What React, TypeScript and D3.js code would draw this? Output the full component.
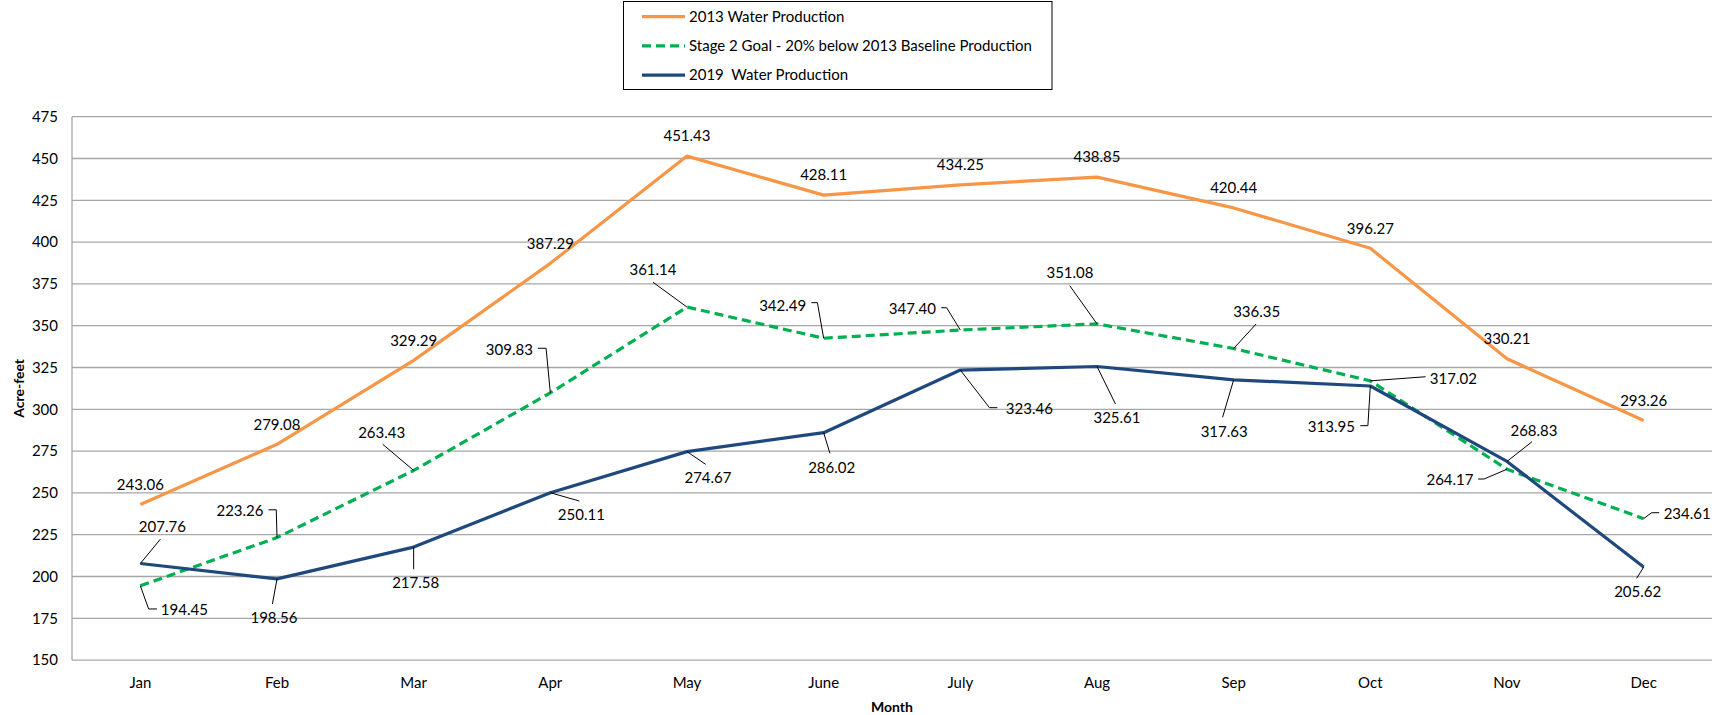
import React from "react";
import * as d3 from "d3";

const months = ["Jan", "Feb", "Mar", "Apr", "May", "June", "July", "Aug", "Sep", "Oct", "Nov", "Dec"];
const prod2013 = [243.06, 279.08, 329.29, 387.29, 451.43, 428.11, 434.25, 438.85, 420.44, 396.27, 330.21, 293.26];
const stage2Goal = [194.45, 223.26, 263.43, 309.83, 361.14, 342.49, 347.4, 351.08, 336.35, 317.02, 264.17, 234.61];
const prod2019 = [207.76, 198.56, 217.58, 250.11, 274.67, 286.02, 323.46, 325.61, 317.63, 313.95, 268.83, 205.62];
const yTicks = [150, 175, 200, 225, 250, 275, 300, 325, 350, 375, 400, 425, 450, 475];

// label placement: [dx, dy] of label centre from point, leader polyline offsets
type Place = { dx: number; dy: number; lead?: [number, number][] };
const above: Place = { dx: 0, dy: -20 };
const place2013: Place[] = months.map(() => above);
const placeGoal: Place[] = [
  { dx: 44, dy: 24, lead: [[8.3, 23.2], [16.7, 23.2]] },
  { dx: -37, dy: -26.6, lead: [[-0.75, -27.8], [-8.5, -27.8]] },
  { dx: -32, dy: -38, lead: [[-31, -26.2]] },
  { dx: -41, dy: -43, lead: [[-4.25, -44.6], [-12.35, -44.6]] },
  { dx: -34, dy: -37, lead: [[-34, -24.8]] },
  { dx: -41, dy: -33, lead: [[-6.25, -35.6], [-12.35, -35.6]] },
  { dx: -48, dy: -21, lead: [[-13.7, -22.3], [-19.1, -22.3]] },
  { dx: -27, dy: -51, lead: [[-27.25, -38.2]] },
  { dx: 23, dy: -37, lead: [[22.4, -24.5]] },
  { dx: 83, dy: -2.5, lead: [[55.25, -4.1]] },
  { dx: -57, dy: 11, lead: [[-22.95, 9.8], [-28.95, 9.8]] },
  { dx: 43.5, dy: -4.5, lead: [[7.95, -5.9], [15.55, -5.9]] },
];
const place2019: Place[] = [
  { dx: 22, dy: -37, lead: [[20, -24.3]] },
  { dx: -3, dy: 38.7, lead: [[-4.6, 25.1]] },
  { dx: 2, dy: 36, lead: [[0, 22.2]] },
  { dx: 31, dy: 22, lead: [[29, 8.3]] },
  { dx: 21, dy: 26, lead: [[18.7, 12.7]] },
  { dx: 8, dy: 35, lead: [[6.25, 20.6]] },
  { dx: 69, dy: 39, lead: [[29.1, 37.6], [37, 37.6]] },
  { dx: 20, dy: 51, lead: [[18.45, 37.5]] },
  { dx: -9.5, dy: 52, lead: [[-11.1, 37.5]] },
  { dx: -39, dy: 40.7, lead: [[-2.45, 39.7], [-10.05, 39.7]] },
  { dx: 27, dy: -31, lead: [[25, -19.7]] },
  { dx: -6, dy: 24.5, lead: [[-7, 11.2]] },
];

const series = [
  { name: "2013 Water Production", values: prod2013, color: "#F79646", dash: undefined, place: place2013 },
  { name: "Stage 2 Goal - 20% below 2013 Baseline Production", values: stage2Goal, color: "#00B050", dash: "9,5", place: placeGoal },
  { name: "2019  Water Production", values: prod2019, color: "#1F497D", dash: undefined, place: place2019 },
];

const W = 1712;
const H = 715;
const left = 72;
const right = 1712;
const top = 116.7;
const bottom = 660.1;
const font = "Lato, 'Liberation Sans', sans-serif";
const fs = 15;

export default function App() {
  const x = d3.scaleBand<string>().domain(months).range([left, right]);
  const y = d3.scaleLinear().domain([150, 475]).range([bottom, top]);
  const cx = (m: string) => (x(m) ?? 0) + x.bandwidth() / 2;
  const line = d3
    .line<number>()
    .x((_, i) => cx(months[i]))
    .y((d) => y(d));

  return (
    <svg width={W} height={H} style={{ position: "absolute", left: 0, top: 0, background: "#fff" }} fontFamily={font}>
      {yTicks.map((t) => (
        <g key={t}>
          <line x1={left} x2={right} y1={y(t)} y2={y(t)} stroke="#A6A6A6" strokeWidth={1.3} />
          <text x={58} y={y(t)} dy="0.35em" textAnchor="end" fontSize={fs} fill="#000">
            {t}
          </text>
        </g>
      ))}
      <line x1={left} x2={left} y1={top} y2={bottom} stroke="#A6A6A6" strokeWidth={1.3} />
      {months.map((m) => (
        <text key={m} x={cx(m)} y={682.5} dy="0.35em" textAnchor="middle" fontSize={fs}>
          {m}
        </text>
      ))}
      <text x={(left + right) / 2} y={707} dy="0.35em" textAnchor="middle" fontSize={14} fontWeight="bold">
        Month
      </text>
      <text
        transform={`translate(19,${(top + bottom) / 2}) rotate(-90)`}
        dy="0.35em"
        textAnchor="middle"
        fontSize={14}
        fontWeight="bold"
      >
        Acre-feet
      </text>

      {series.map((s) => (
        <path
          key={s.name}
          d={line(s.values) ?? ""}
          fill="none"
          stroke={s.color}
          strokeWidth={3.2}
          strokeDasharray={s.dash}
          strokeLinejoin="round"
        />
      ))}

      {series.map((s) =>
        s.values.map((v, i) => {
          const px = cx(months[i]);
          const py = y(v);
          const p = s.place[i];
          return (
            <g key={s.name + i}>
              {p.lead && (
                <polyline
                  points={[[0, 0], ...p.lead].map(([a, b]) => `${px + a},${py + b}`).join(" ")}
                  fill="none"
                  stroke="#000"
                  strokeWidth={1}
                />
              )}
              <text x={px + p.dx} y={py + p.dy} dy="0.35em" textAnchor="middle" fontSize={fs}>
                {v.toFixed(2)}
              </text>
            </g>
          );
        })
      )}

      <rect x={623.5} y={1.5} width={428.5} height={88} fill="#fff" stroke="#000" strokeWidth={1} />
      {series.map((s, i) => (
        <g key={s.name} transform={`translate(0,${16.7 + i * 29.2})`}>
          <line x1={642} x2={685} y1={0} y2={0} stroke={s.color} strokeWidth={3.2} strokeDasharray={s.dash} />
          <text x={689} y={0} dy="0.35em" fontSize={fs} style={{ whiteSpace: "pre" }}>
            {s.name}
          </text>
        </g>
      ))}
    </svg>
  );
}
